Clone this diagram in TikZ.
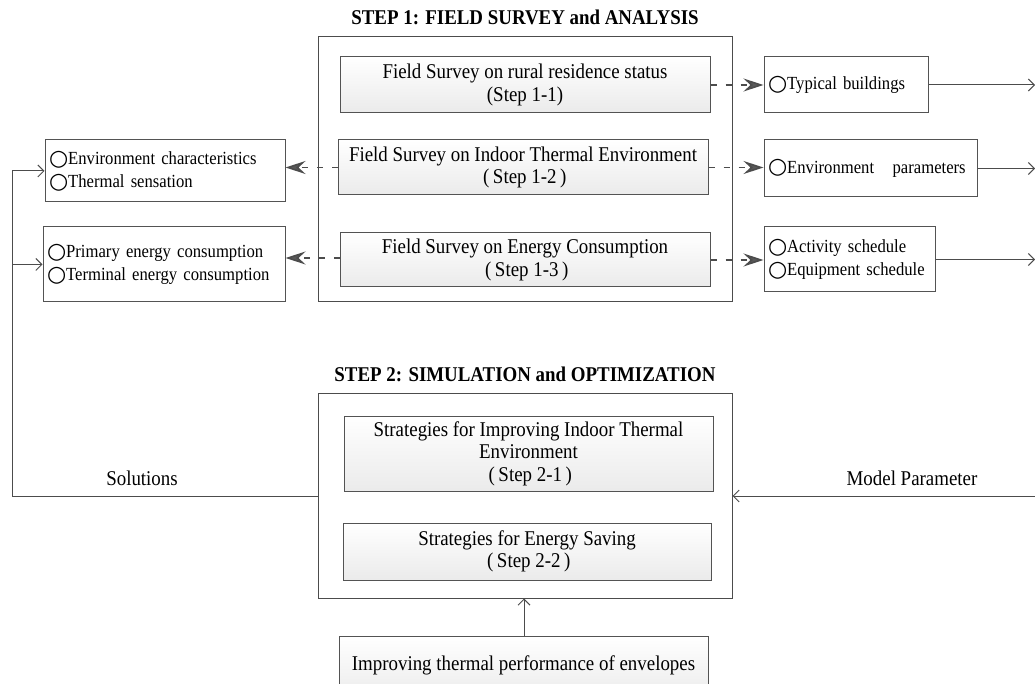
\documentclass[tikz,border=0pt]{standalone}
\usepackage{fontspec}
\setmainfont{Liberation Serif}[FakeStretch=0.9]
\newfontfamily\circfont{DejaVu Sans}
\newcommand{\bul}{{\circfont\fontsize{22}{22}\selectfont\raisebox{-0.5pt}{○}}}
\usetikzlibrary{arrows.meta,shadings}
\begin{document}
\begin{tikzpicture}[x=1pt,y=-1pt,
  line col/.style={draw=gray!60!black},
  framebox/.style={line col, line width=1pt},
  stepbox/.style={draw=gray!65!black, line width=1pt, top color=white, bottom color=gray!16,
    font=\fontsize{21}{22.5}\selectfont, align=center, inner sep=0pt},
  sidebox/.style={draw=gray!65!black, line width=1pt, fill=white,
    font=\fontsize{18.5}{23}\selectfont, align=left, inner xsep=4pt, inner ysep=0pt},
  title/.style={font=\fontsize{21}{24}\selectfont\bfseries},
  label/.style={font=\fontsize{21}{24}\selectfont},
  dasharrow/.style={line col, line width=1.6pt, dash pattern=on 6pt off 9pt,
    -{Stealth[length=20pt, width=13pt, inset=7pt, fill=gray!70!black]}},
  openarrow/.style={line col, line width=1pt,
    -{Straight Barb[length=6pt, width=12pt, line width=1pt]}},
]
\useasboundingbox (0,0) rectangle (1035,684);
\clip (0,0) rectangle (1035,684);

% ---------- Step 1 ----------
\node[title] (t1) at (525,17) {STEP 1: FIELD SURVEY and ANALYSIS};
\node[framebox, minimum width=414pt, minimum height=265pt, inner sep=0pt] (o1) at (525,169.5) {};

\node[stepbox, minimum width=370pt, minimum height=56pt] (s11) at (525,85)
  {Field Survey on rural residence status\\(Step 1-1)};
\node[stepbox, minimum width=370pt, minimum height=55pt] (s12) at (523,167.5)
  {Field Survey on Indoor Thermal Environment\\\,(\,Step 1-2\,)};
\node[stepbox, minimum width=370pt, minimum height=54pt] (s13) at (525,260)
  {Field Survey on Energy Consumption\\\,(\,Step 1-3\,)};

% results of the survey, left side
\node[sidebox, minimum width=240pt, minimum height=62pt, text width=232pt] (env) at (165,171)
  {\bul Environment characteristics\\\bul Thermal sensation};
\node[sidebox, minimum width=242pt, minimum height=75pt, text width=234pt] (prim) at (164,264.5)
  {\bul Primary energy consumption\\\bul Terminal energy consumption};

% model inputs, right side
\node[sidebox, minimum width=164pt, minimum height=56pt, text width=156pt] (typ) at (846,85)
  {\bul Typical buildings};
\node[sidebox, minimum width=213pt, minimum height=57pt, text width=205pt] (par) at (870.5,168.5)
  {\bul Environment\quad parameters};
\node[sidebox, minimum width=171pt, minimum height=65pt, text width=163pt] (act) at (849.5,259.5)
  {\bul Activity schedule\\\bul Equipment schedule};

\coordinate (xr) at (1035,0);
\coordinate (sol) at (12,496);
\coordinate (mp) at (1035,496);

\draw[dasharrow] (s11.east) -- (s11.east -| typ.west);
\draw[dasharrow] (s12.east) -- (s12.east -| par.west);
\draw[dasharrow] (s13.east) -- (s13.east -| act.west);
\draw[dasharrow] (s12.west) -- (s12.west -| env.east);
\draw[dasharrow] ([yshift=2pt]s13.west) -- ([yshift=2pt]s13.west -| prim.east);

\draw[openarrow] (typ.east) -- (typ.east -| xr);
\draw[openarrow] (par.east) -- (par.east -| xr);
\draw[openarrow] (act.east) -- (act.east -| xr);

% ---------- Step 2 ----------
\node[title] (t2) at (525,374) {STEP 2: SIMULATION and OPTIMIZATION};
\node[framebox, minimum width=414pt, minimum height=205pt, inner sep=0pt] (o2) at (525,495.5) {};

\node[stepbox, minimum width=369pt, minimum height=75pt] (s21) at (528.5,453.5)
  {Strategies for Improving Indoor Thermal\\Environment\\\,(\,Step 2-1\,)};
\node[stepbox, minimum width=368pt, minimum height=57pt] (s22) at (527,551.5)
  {Strategies for Energy Saving\\\,(\,Step 2-2\,)};

\node[stepbox, minimum width=369pt, minimum height=64pt, text depth=0pt] (env2) at (523.5,668)
  {\raisebox{9pt}{Improving thermal performance of envelopes}};

\draw[openarrow] (env2.north -| 524,0) -- (o2.south -| 524,0);

% feedback loops
\draw[line col, line width=1pt] (o2.west |- sol) -- (sol) -- (sol |- env.west);
\draw[openarrow] (sol |- env.west) -- (env.west);
\draw[openarrow] (sol |- prim.west) -- (prim.west);
\draw[openarrow] (mp) -- (o2.east |- mp);

\node[label] (lsol) at (142,478) {Solutions};
\node[label] (lmp) at (912,478) {Model Parameter};
\end{tikzpicture}
\end{document}
